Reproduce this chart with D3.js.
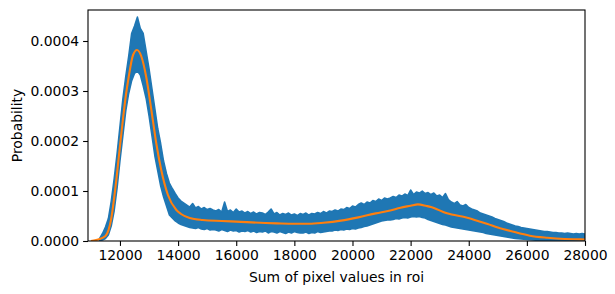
<!DOCTYPE html>
<html>
<head>
<meta charset="utf-8">
<script src="https://cdn.jsdelivr.net/npm/d3@7"></script>
<style>
  body { margin: 0; background: #fff; }
  svg text { font-family: "DejaVu Sans", sans-serif; }
</style>
</head>
<body>
<div id="chart"></div>
<script>
// histogram bins, 100 wide, starting at 11300 (values in units of 1e-5)
const binStart = 11300;
const binWidth = 100;

// upper / lower edge of the noisy histogram band
const bandHigh = [
  0.5, 1.5, 2.8, 4.5, 8.0, 12.5, 17.5, 23, 28.5, 33,
  37, 41.5, 43, 44.8, 42.5, 41.5, 38, 34.5, 30.5, 26.5,
  22.5, 19.5, 16, 13.5, 11.6, 10.5, 9.5, 8.6, 8.0, 7.6,
  7.2, 6.8, 7.5, 6.6, 6.9, 6.4, 6.7, 6.3, 6.5, 6.2,
  6.0, 6.3, 5.8, 7.8, 5.9, 6.2, 5.7, 6.4, 5.8, 6.0,
  5.6, 5.9, 5.5, 5.8, 5.4, 5.7, 5.6, 5.3, 5.8, 6.4,
  5.4, 5.7, 5.2, 5.5, 5.3, 5.6, 5.2, 5.4, 5.1, 5.5,
  5.3, 5.6, 5.2, 5.5, 5.4, 5.7, 5.5, 5.9, 5.6, 6.0,
  5.9, 6.2, 6.0, 6.4, 6.3, 6.7, 6.5, 7.0, 6.8, 7.3,
  7.6, 7.3, 7.8, 7.6, 8.1, 7.9, 8.4, 8.1, 8.6, 8.4,
  8.6, 8.9, 8.7, 9.2, 9.0, 9.4, 9.1, 10.2, 9.3, 9.8,
  9.6, 10.0, 9.5, 9.7, 9.3, 9.6, 9.0, 9.2, 8.7, 9.5,
  8.3, 7.8, 7.5, 7.9, 7.2, 7.0, 7.3, 6.7, 6.4, 6.2,
  6.0, 5.6, 5.4, 5.2, 5.0, 4.8, 4.5, 4.3, 4.1, 3.9,
  3.6, 3.4, 3.2, 3.0, 2.9, 2.7, 2.6, 2.5, 2.4, 2.3,
  2.2, 2.1, 2.0, 1.9, 1.9, 1.8, 1.7, 1.7, 1.6, 1.6,
  1.5, 1.6, 1.5, 1.4, 1.5, 1.4, 1.5, 1.4
];
const bandLow = [
  0, 0.2, 0.5, 1.2, 3.0, 6.0, 10.5, 16, 21, 26,
  29.5, 32, 33.5, 34, 33.2, 31, 28.5, 25, 21, 17,
  14, 11, 8.8, 7, 5.2, 4.6, 4.0, 3.6, 3.3, 3.1,
  2.9, 2.7, 2.6, 2.5, 2.7, 2.4, 2.3, 2.5, 2.2, 2.3,
  2.2, 2.0, 2.3, 2.1, 1.9, 2.2, 2.0, 2.1, 1.8, 2.0,
  1.9, 2.1, 1.8, 2.0, 1.7, 1.9, 1.8, 2.0, 1.6, 1.9,
  1.8, 1.6, 1.9, 1.7, 1.5, 1.8, 1.6, 1.9, 1.7, 1.6,
  1.6, 1.8, 1.5, 1.7, 1.6, 1.9, 1.7, 1.8, 1.9, 2.0,
  2.0, 2.2, 2.1, 2.3, 2.2, 2.4, 2.3, 2.5, 2.4, 2.6,
  2.7, 2.9, 3.0, 3.2, 3.4, 3.6, 3.8, 4.0, 4.1, 4.2,
  4.2, 4.3, 4.5, 4.4, 4.6, 4.7, 4.6, 4.8, 4.9, 4.8,
  4.9, 4.7, 4.6, 4.3, 4.1, 3.9, 3.7, 3.5, 3.3, 3.2,
  3.0, 2.8, 2.7, 2.6, 2.5, 2.4, 2.3, 2.2, 2.1, 2.0,
  1.9, 1.8, 1.7, 1.5, 1.4, 1.3, 1.2, 1.1, 1.0, 0.9,
  0.8, 0.7, 0.6, 0.5, 0.45, 0.4, 0.35, 0.3, 0.25, 0.2,
  0.15, 0.1, 0.1, 0.05, 0.05, 0, 0, 0, 0, 0,
  0, 0, 0, 0, 0, 0, 0, 0
];

// smoothed density (orange)
const smoothX = [11000, 11250, 11500, 11700, 11850, 12000, 12100, 12200, 12300, 12450,
  12585, 12730, 12900, 13080, 13250, 13420, 13650, 13940, 14100, 14400,
  14850, 15500, 16000, 17000, 17400, 18000, 18500, 19000, 19600, 20200,
  20800, 21300, 21650, 22000, 22250, 22550, 22700, 23250, 23950, 24400,
  24650, 25000, 25500, 26100, 26700, 27300, 27850, 28000];
const smoothY = [0, 0.3, 1.0, 4.5, 11, 19, 24.2, 29, 32.8, 37.2,
  38.2, 37.0, 32.9, 26.2, 19.5, 14.2, 9.2, 6.2, 5.4, 4.6,
  4.2, 4.0, 3.87, 3.6, 3.53, 3.45, 3.45, 3.65, 4.07, 4.73,
  5.53, 6.1, 6.67, 7.05, 7.33, 7.0, 6.8, 5.53, 4.67, 3.87,
  3.4, 2.7, 1.9, 1.06, 0.65, 0.4, 0.33, 0.3];

const xTicks = [12000, 14000, 16000, 18000, 20000, 22000, 24000, 26000, 28000];
const yTicks = [0, 10, 20, 30, 40];

const width = 615, height = 294;
const margin = { top: 10, right: 30, bottom: 53, left: 88 };

const svg = d3.select('#chart').append('svg')
  .attr('width', width)
  .attr('height', height);

const x = d3.scaleLinear().domain([10900, 28000]).range([margin.left, width - margin.right]);
const y = d3.scaleLinear().domain([0, 46.2]).range([height - margin.bottom, margin.top]);

svg.append('clipPath').attr('id', 'plot')
  .append('rect')
  .attr('x', margin.left).attr('y', margin.top)
  .attr('width', width - margin.left - margin.right)
  .attr('height', height - margin.top - margin.bottom);

const plot = svg.append('g').attr('clip-path', 'url(#plot)');

const bins = bandHigh.map((h, i) => ({ x: binStart + i * binWidth, hi: h, lo: bandLow[i] }));

const band = d3.area()
  .x(d => x(d.x))
  .y0(d => y(d.lo))
  .y1(d => y(d.hi));

plot.append('path')
  .datum(bins)
  .attr('d', band)
  .attr('fill', '#1f77b4')
  .attr('stroke', '#1f77b4')
  .attr('stroke-width', 1.5)
  .attr('stroke-linejoin', 'round');

const line = d3.line()
  .x((d, i) => x(smoothX[i]))
  .y(d => y(d))
  .curve(d3.curveMonotoneX);

plot.append('path')
  .datum(smoothY)
  .attr('d', line)
  .attr('fill', 'none')
  .attr('stroke', '#ff7f0e')
  .attr('stroke-width', 2.1);

// axes
const xAxis = svg.append('g')
  .attr('transform', `translate(0,${height - margin.bottom})`)
  .call(d3.axisBottom(x).tickValues(xTicks).tickFormat(d3.format('d')).tickSizeOuter(0).tickSize(4.9).tickPadding(4));
const yAxis = svg.append('g')
  .attr('transform', `translate(${margin.left},0)`)
  .call(d3.axisLeft(y).tickValues(yTicks).tickFormat(d => (d * 1e-5).toFixed(4)).tickSizeOuter(0).tickSize(4.9).tickPadding(4));

[xAxis, yAxis].forEach(a => {
  a.select('.domain').remove();
  a.selectAll('line').attr('stroke', '#000').attr('stroke-width', 1.1);
  a.selectAll('text').attr('fill', '#000').style('font-size', '13.9px');
});

// frame
svg.append('rect')
  .attr('x', margin.left).attr('y', margin.top)
  .attr('width', width - margin.left - margin.right)
  .attr('height', height - margin.top - margin.bottom)
  .attr('fill', 'none')
  .attr('stroke', '#000')
  .attr('stroke-width', 1.1);

svg.append('text')
  .attr('x', (margin.left + width - margin.right) / 2)
  .attr('y', 282)
  .attr('text-anchor', 'middle')
  .style('font-size', '13.9px')
  .text('Sum of pixel values in roi');

svg.append('text')
  .attr('transform', `translate(22,${(margin.top + height - margin.bottom) / 2}) rotate(-90)`)
  .attr('text-anchor', 'middle')
  .style('font-size', '13.9px')
  .text('Probability');
</script>
</body>
</html>
